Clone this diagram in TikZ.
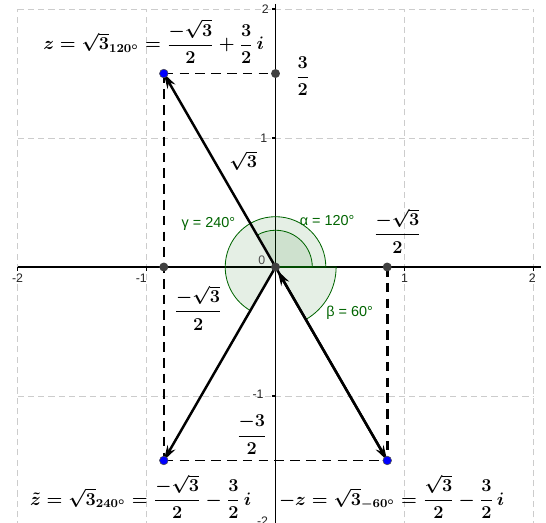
\documentclass[tikz,border=0pt]{standalone}
\usepackage{amsmath,amssymb}
\usepackage{fontspec}
\newfontfamily\geofont{Liberation Sans}
\usetikzlibrary{arrows.meta,positioning}
\definecolor{anglegreen}{HTML}{006400}
\definecolor{pointgray}{HTML}{404040}
\definecolor{pointblue}{HTML}{0000FF}
\newcommand{\mathtext}[1]{\scalebox{1.1}{\large\boldmath$#1$}}
\tikzstyle{gridline} = [gray!40, dash pattern=on 4.5pt off 3pt, line width=0.6pt]
\tikzstyle{axisline} = [black, line width=0.8pt]
\tikzstyle{vecarrow} = [-{Stealth[length=11pt,width=6.5pt]}, line width=1.8pt]
\tikzstyle{projline} = [dash pattern=on 7pt off 4.5pt, line width=1.1pt]
\tikzstyle{bluept} = [circle, fill=pointblue, draw=black!70, line width=0.4pt, inner sep=0pt, minimum size=6.3pt]
\tikzstyle{graypt} = [circle, fill=pointgray, inner sep=0pt, minimum size=6.5pt]
\tikzstyle{anglesec} = [draw=anglegreen, line width=0.6pt, fill=anglegreen, fill opacity=0.1]
\tikzstyle{anglelabel} = [text=anglegreen, font=\geofont\fontsize{10.5}{12}\selectfont, inner sep=0pt]
\tikzstyle{ticklabel} = [font=\geofont\small, text=black!85, inner sep=0pt]
\tikzstyle{mathlabel} = [inner sep=0pt]

\begin{document}
\begin{tikzpicture}[x=3.3cm, y=3.3cm]
\useasboundingbox (-2.136,-1.977) rectangle (2.097,2.07);

% --- Grid ---
\foreach \k in {-2,-1,1,2} {
  \draw[gridline] (\k,-2.1) -- (\k,2);
  \draw[gridline] (-2,\k) -- (2,\k);
}

% --- Axes ---
\coordinate (xleft) at (-2,0);
\coordinate (xright) at (2.06,0);
\coordinate (ytop) at (0,2.04);
\coordinate (ybottom) at (0,-2.1);
\draw[axisline] (xleft) -- (xright);
\draw[axisline] (ytop) -- (ybottom);
\foreach \k in {-2,-1,1,2} {
  \draw[axisline] (\k,0) -- ++(0,-0.03);
  \draw[axisline] (0,\k) -- ++(-0.03,0);
}
\node[ticklabel] (xtickA) at (-2.0,-0.09) {-2};
\node[ticklabel] (xtickB) at (-1.04,-0.09) {-1};
\node[ticklabel] (xtickC) at (1.0,-0.09) {1};
\node[ticklabel] (xtickD) at (1.99,-0.09) {2};
\node[ticklabel] (ytickA) at (-0.08,2.0) {2};
\node[ticklabel] (ytickB) at (-0.09,1.0) {1};
\node[ticklabel] (ytickC) at (-0.135,-0.99) {-1};
\node[ticklabel] (ytickD) at (-0.1,-1.97) {-2};

% --- Points ---
\coordinate (O) at (0,0);
\coordinate (z) at (-0.866,1.5);
\coordinate (zt) at (-0.866,-1.5);
\coordinate (mz) at (0.866,-1.5);
\coordinate (py) at (0,1.5);
\coordinate (pxl) at (-0.866,0);
\coordinate (pxr) at (0.866,0);

% --- Angles ---
\draw[anglesec] (O) -- ++(0:0.39) arc[start angle=0, end angle=240, radius=0.39] -- cycle;
\draw[anglesec] (O) -- ++(0:0.285) arc[start angle=0, end angle=120, radius=0.285] -- cycle;
\draw[anglesec] (O) -- ++(300:0.47) arc[start angle=300, end angle=360, radius=0.47] -- cycle;

% --- Projections ---
\draw[projline] (z) -- (py);
\draw[projline] (z) -- (zt);
\draw[projline] (zt) -- (mz);
\draw[projline, line width=2.2pt] (pxr) -- (mz);

% --- Vectors ---
\draw[vecarrow] (O) -- (z);
\draw[vecarrow] (O) -- (zt);
\draw[vecarrow] (O) -- (mz);
\draw[vecarrow, shorten >=3pt] (mz) -- (O);

\node[graypt] (Odot) at (O) {};
\node[graypt] (pydot) at (py) {};
\node[graypt] (pxldot) at (pxl) {};
\node[graypt] (pxrdot) at (pxr) {};
\node[bluept] (zdot) at (z) {};
\node[bluept] (ztdot) at (zt) {};
\node[bluept] (mzdot) at (mz) {};

% --- Labels ---
\node[mathlabel] (zeq) at (-0.945,1.75) {\mathtext{z=\sqrt{3}_{120^\circ}=\dfrac{-\sqrt{3}}{2}+\dfrac{3}{2}\,i}};
\node[mathlabel] (yval) at (0.21,1.48) {\mathtext{\dfrac{3}{2}}};
\node[mathlabel] (modlab) at (-0.25,0.826) {\mathtext{\sqrt{3}}};
\node[anglelabel] (gammalab) at (-0.52,0.33) {γ = 240°};
\node[anglelabel] (alphalab) at (0.40,0.363) {α = 120°};
\node[mathlabel] (xvalr) at (0.946,0.28) {\mathtext{\dfrac{-\sqrt{3}}{2}}};
\node[ticklabel, text=black!70] (olab) at (-0.107,0.054) {0};
\node[mathlabel] (xvall) at (-0.60,-0.317) {\mathtext{\dfrac{-\sqrt{3}}{2}}};
\node[anglelabel] (betalab) at (0.575,-0.355) {β = 60°};
\node[mathlabel] (yvalb) at (-0.184,-1.30) {\mathtext{\dfrac{-3}{2}}};
\node[mathlabel] (zteq) at (-1.046,-1.78) {\mathtext{\tilde{z}=\sqrt{3}_{240^\circ}=\dfrac{-\sqrt{3}}{2}-\dfrac{3}{2}\,i}};
\node[mathlabel] (mzeq) at (0.90,-1.78) {\mathtext{-z=\sqrt{3}_{-60^\circ}=\dfrac{\sqrt{3}}{2}-\dfrac{3}{2}\,i}};

\end{tikzpicture}
\end{document}
